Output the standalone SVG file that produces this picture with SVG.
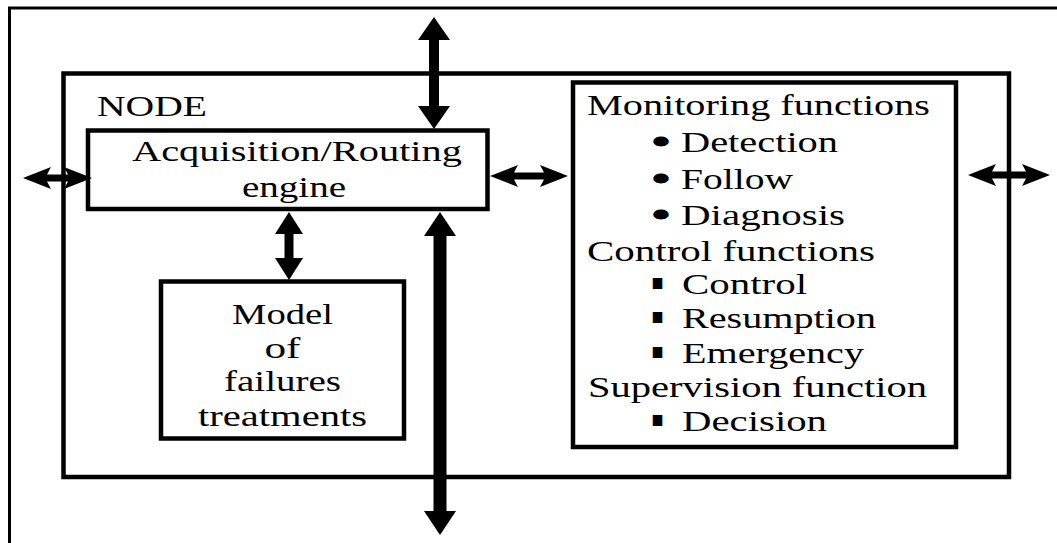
<svg xmlns="http://www.w3.org/2000/svg" width="1057" height="543" viewBox="0 0 1057 543">
<style>
.box{fill:#fff;stroke:#000;stroke-width:4.5}
.frame{fill:none;stroke:#000;stroke-width:3}
text{font-family:'Liberation Serif',Tinos,'Times New Roman','Nimbus Roman','DejaVu Serif',serif;font-size:30px;fill:#000}
.m{text-anchor:middle}
.dot{stroke:#000;stroke-width:3;stroke-linejoin:round}
.sq{font-family:'DejaVu Sans',sans-serif;font-size:22px}
.arrow{fill:#000;stroke:none}
</style>
<rect width="1057" height="543" fill="#fff"/>
<path class="frame" d="M9.5,543 V8 H1057"/>
<g id="node">
  <rect class="box" x="63.5" y="73.5" width="945.5" height="403.5"/>
  <text x="97" y="116" textLength="110" lengthAdjust="spacingAndGlyphs">NODE</text>
</g>
<g id="acquisition">
  <rect class="box" x="88" y="130.5" width="399.5" height="78.5"/>
  <text x="132" y="161" textLength="330" lengthAdjust="spacingAndGlyphs">Acquisition/Routing</text>
  <text x="242" y="197" textLength="104" lengthAdjust="spacingAndGlyphs">engine</text>
</g>
<g id="model">
  <rect class="box" x="161" y="281.5" width="243" height="157"/>
  <text class="m" x="282.5" y="323.5" textLength="101" lengthAdjust="spacingAndGlyphs">Model</text>
  <text class="m" x="282.5" y="357.5" textLength="36" lengthAdjust="spacingAndGlyphs">of</text>
  <text class="m" x="282.5" y="391" textLength="117" lengthAdjust="spacingAndGlyphs">failures</text>
  <text class="m" x="282.5" y="426" textLength="169" lengthAdjust="spacingAndGlyphs">treatments</text>
</g>
<g id="functions">
  <rect class="box" x="573" y="82.5" width="383" height="364.5"/>
  <text x="587" y="115" textLength="343" lengthAdjust="spacingAndGlyphs">Monitoring functions</text>
  <text class="dot" x="653" y="152" textLength="16" lengthAdjust="spacingAndGlyphs">•</text>
  <text x="681" y="152" textLength="157" lengthAdjust="spacingAndGlyphs">Detection</text>
  <text class="dot" x="653" y="188.5" textLength="16" lengthAdjust="spacingAndGlyphs">•</text>
  <text x="681" y="188.5" textLength="112" lengthAdjust="spacingAndGlyphs">Follow</text>
  <text class="dot" x="653" y="225" textLength="16" lengthAdjust="spacingAndGlyphs">•</text>
  <text x="681" y="225" textLength="164" lengthAdjust="spacingAndGlyphs">Diagnosis</text>
  <text x="587" y="261" textLength="288" lengthAdjust="spacingAndGlyphs">Control functions</text>
  <text class="sq" x="651" y="289" textLength="13" lengthAdjust="spacingAndGlyphs">▪</text>
  <text x="682" y="293.5" textLength="125" lengthAdjust="spacingAndGlyphs">Control</text>
  <text class="sq" x="651" y="323" textLength="13" lengthAdjust="spacingAndGlyphs">▪</text>
  <text x="682" y="327.5" textLength="194" lengthAdjust="spacingAndGlyphs">Resumption</text>
  <text class="sq" x="651" y="358" textLength="13" lengthAdjust="spacingAndGlyphs">▪</text>
  <text x="682" y="362.5" textLength="182" lengthAdjust="spacingAndGlyphs">Emergency</text>
  <text x="588" y="397" textLength="339" lengthAdjust="spacingAndGlyphs">Supervision function</text>
  <text class="sq" x="651" y="426" textLength="13" lengthAdjust="spacingAndGlyphs">▪</text>
  <text x="682" y="430.5" textLength="145" lengthAdjust="spacingAndGlyphs">Decision</text>
</g>
<g id="connectors">
  <path class="arrow" d="M23,178 L51,167 L47,174.5 L68,174.5 L64,167 L92,178 L64,189 L68,181.5 L47,181.5 L51,189 Z"/>
  <path class="arrow" d="M490,176 L518,165 L514,172.5 L544,172.5 L540,165 L568,176 L540,187 L544,179.5 L514,179.5 L518,187 Z"/>
  <path class="arrow" d="M968,175 L996,164 L992,171.5 L1026,171.5 L1022,164 L1050,175 L1022,186 L1026,178.5 L992,178.5 L996,186 Z"/>
  <path class="arrow" d="M434,17 L450,40 L439,40 L439,106 L450,106 L434,129 L418,106 L429,106 L429,40 L418,40 Z"/>
  <path class="arrow" d="M289,212 L303,234 L293.5,234 L293.5,258 L303,258 L289,280 L275,258 L284.5,258 L284.5,234 L275,234 Z"/>
  <path class="arrow" d="M440,212 L456,236 L446.5,236 L446.5,511 L456,511 L440,535 L424,511 L433.5,511 L433.5,236 L424,236 Z"/>
</g>
</svg>
